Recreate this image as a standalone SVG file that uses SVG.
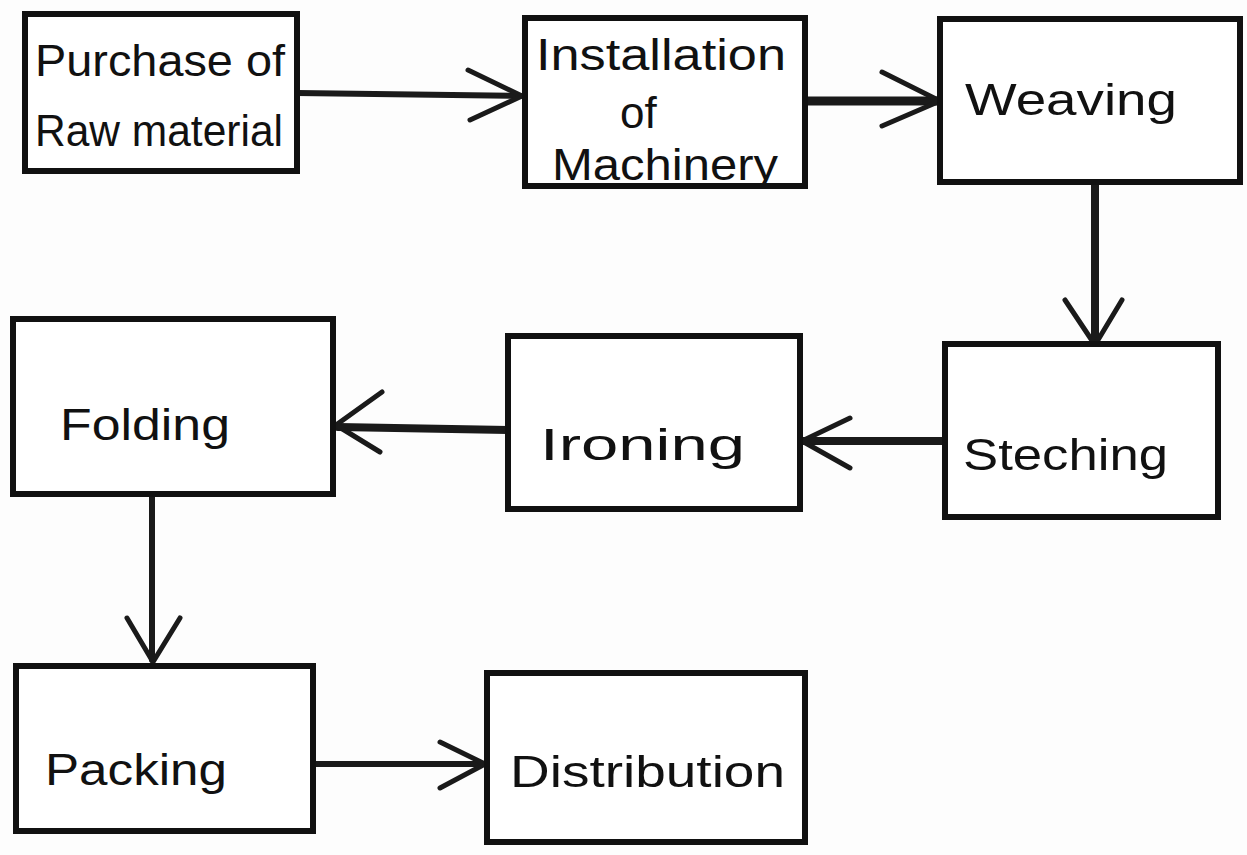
<svg xmlns="http://www.w3.org/2000/svg" width="1247" height="855" viewBox="0 0 1247 855">
<defs>
<style>
.box{fill:#ffffff;stroke:#111;stroke-width:6;stroke-linejoin:miter}
.lbl{font-family:"Liberation Sans","DejaVu Sans",sans-serif;fill:#111;font-size:44px}
.con{stroke:#1a1a1a;stroke-width:6;fill:none;stroke-linecap:round}
.head{stroke:#1a1a1a;stroke-width:5;fill:none;stroke-linecap:round;stroke-linejoin:round}
</style>
</defs>
<rect width="1247" height="855" fill="#fdfdfd"/>
<g id="connectors">
<path class="con" d="M297 93 L520 96"/><path class="head" d="M468 70 L522 96 L470 120"/>
<path class="con" d="M805 101 L938 101" style="stroke-width:9"/><path class="head" d="M882 72 L940 101 L882 126"/>
<path class="con" d="M1095 183 L1095 343" style="stroke-width:8"/><path class="head" d="M1065 300 L1095 345 L1122 300"/>
<path class="con" d="M945 441 L803 441" style="stroke-width:8"/><path class="head" d="M850 418 L802 441 L850 468"/>
<path class="con" d="M508 430 L338 427" style="stroke-width:8"/><path class="head" d="M382 392 L336 425 L380 452"/>
<path class="con" d="M152 495 L152 660"/><path class="head" d="M127 618 L153 662 L180 618"/>
<path class="con" d="M313 764 L484 764"/><path class="head" d="M440 742 L485 764 L440 788"/>
</g>
<g id="n-purchase"><rect class="box" x="25" y="14" width="272" height="157"/>
<text class="lbl" x="35" y="76" textLength="250" lengthAdjust="spacingAndGlyphs">Purchase of</text>
<text class="lbl" x="35" y="146" textLength="248" lengthAdjust="spacingAndGlyphs">Raw material</text></g>
<g id="n-installation"><rect class="box" x="525" y="18" width="280" height="168"/>
<text class="lbl" x="536" y="70" textLength="250" lengthAdjust="spacingAndGlyphs">Installation</text>
<text class="lbl" x="620" y="128">of</text>
<text class="lbl" x="552" y="180" textLength="226" lengthAdjust="spacingAndGlyphs">Machinery</text></g>
<g id="n-weaving"><rect class="box" x="940" y="19" width="300" height="163"/>
<text class="lbl" x="965" y="115" textLength="212" lengthAdjust="spacingAndGlyphs">Weaving</text></g>
<g id="n-steching"><rect class="box" x="945" y="344" width="273" height="173"/>
<text class="lbl" x="963" y="470" textLength="205" lengthAdjust="spacingAndGlyphs">Steching</text></g>
<g id="n-ironing"><rect class="box" x="508" y="336" width="292" height="173"/>
<text class="lbl" x="540" y="460" textLength="205" lengthAdjust="spacingAndGlyphs">Ironing</text></g>
<g id="n-folding"><rect class="box" x="13" y="319" width="320" height="175"/>
<text class="lbl" x="60" y="440" textLength="170" lengthAdjust="spacingAndGlyphs">Folding</text></g>
<g id="n-packing"><rect class="box" x="16" y="666" width="297" height="165"/>
<text class="lbl" x="45" y="785" textLength="182" lengthAdjust="spacingAndGlyphs">Packing</text></g>
<g id="n-distribution"><rect class="box" x="487" y="673" width="318" height="169"/>
<text class="lbl" x="510" y="787" textLength="275" lengthAdjust="spacingAndGlyphs">Distribution</text></g>
</svg>
